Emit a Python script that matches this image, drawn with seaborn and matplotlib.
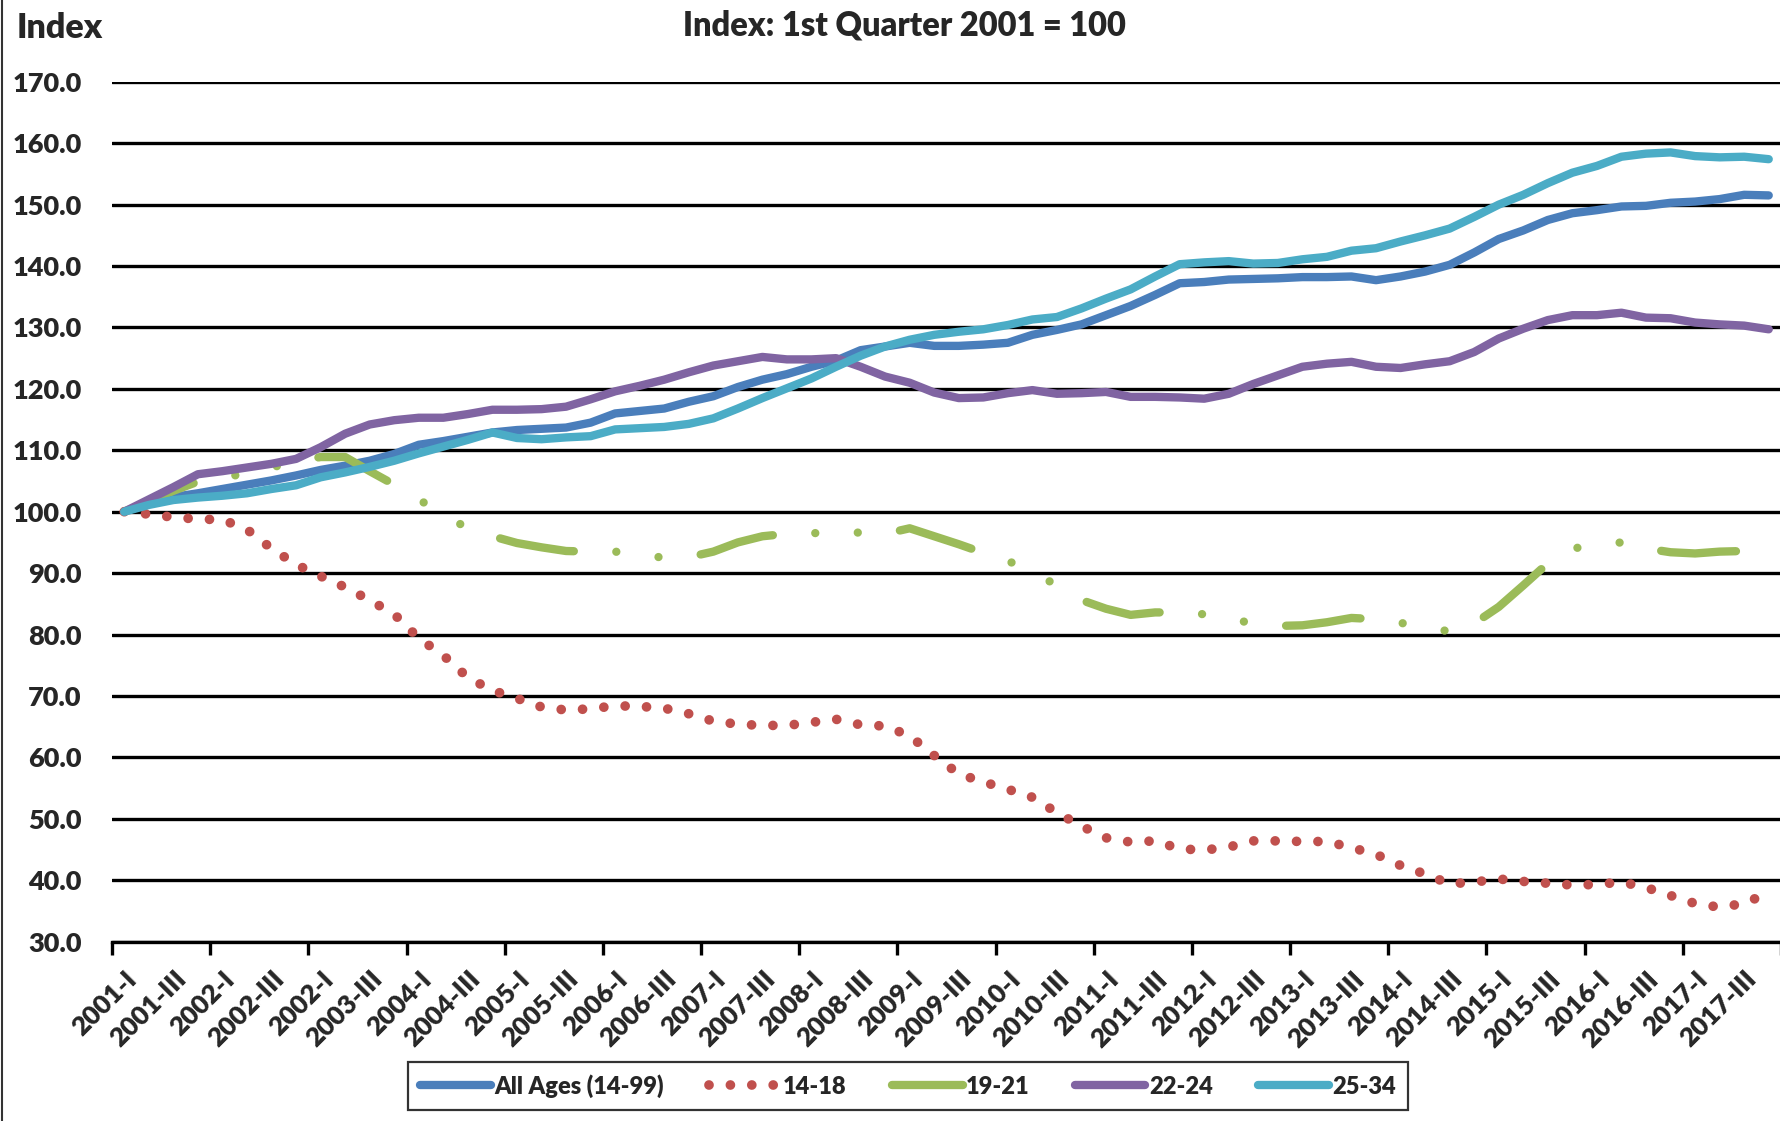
import numpy as np
import pandas as pd
import matplotlib
matplotlib.use("Agg")
import matplotlib.pyplot as plt
from matplotlib.lines import Line2D
import seaborn as sns

# quarterly categories 2001-I .. 2017-IV
quarters = [f"{y}-{q}" for y in range(2001, 2018) for q in ["I", "II", "III", "IV"]]

# tick labels every other quarter (as printed on the original, incl. its "2002-I" typo)
tick_labels = ["2001-I", "2001-III", "2002-I", "2002-III", "2002-I", "2003-III",
               "2004-I", "2004-III", "2005-I", "2005-III", "2006-I", "2006-III",
               "2007-I", "2007-III", "2008-I", "2008-III", "2009-I", "2009-III",
               "2010-I", "2010-III", "2011-I", "2011-III", "2012-I", "2012-III",
               "2013-I", "2013-III", "2014-I", "2014-III", "2015-I", "2015-III",
               "2016-I", "2016-III", "2017-I", "2017-III"]

all_ages = [100.0, 101.4, 102.4, 103.0, 103.7, 104.4, 105.1, 105.9, 106.8, 107.5,
            108.3, 109.4, 110.9, 111.5, 112.2, 112.9, 113.3, 113.5, 113.7, 114.5,
            116.0, 116.4, 116.8, 117.9, 118.8, 120.3, 121.5, 122.4, 123.6, 124.6,
            126.3, 126.9, 127.5, 127.0, 127.0, 127.2, 127.5, 128.8, 129.6, 130.5,
            132.0, 133.5, 135.3, 137.2, 137.4, 137.8, 137.9, 138.0, 138.2, 138.2,
            138.3, 137.7, 138.3, 139.1, 140.2, 142.2, 144.4, 145.8, 147.5, 148.6,
            149.1, 149.7, 149.8, 150.3, 150.5, 150.9, 151.6, 151.5]

age_14_18 = [100.0, 99.6, 99.1, 98.8, 98.7, 97.1, 94.0, 91.4, 89.5, 87.7,
             85.6, 83.3, 79.4, 76.6, 73.0, 70.9, 69.6, 68.2, 67.7, 67.9,
             68.4, 68.3, 68.0, 67.1, 65.9, 65.4, 65.2, 65.2, 65.7, 66.2,
             65.3, 65.1, 63.5, 60.3, 57.3, 56.0, 54.8, 53.5, 51.0, 48.8,
             46.9, 46.2, 46.4, 45.1, 44.9, 45.4, 46.4, 46.4, 46.3, 46.3,
             45.3, 44.2, 42.4, 41.0, 39.4, 39.7, 40.2, 39.8, 39.5, 39.2,
             39.3, 39.7, 38.8, 37.5, 36.2, 35.6, 36.2, 38.0]

age_19_21 = [100.0, 101.7, 103.4, 104.9, 105.5, 106.3, 107.2, 108.2, 108.9, 108.9,
             106.6, 104.4, 102.0, 99.5, 97.3, 96.0, 94.9, 94.2, 93.6, 93.5,
             93.5, 93.0, 92.5, 92.6, 93.5, 95.0, 96.0, 96.4, 96.5, 96.6,
             96.6, 96.4, 97.3, 96.0, 94.7, 93.3, 92.0, 90.2, 88.0, 85.6,
             84.2, 83.2, 83.6, 83.6, 83.3, 82.6, 81.8, 81.4, 81.5, 82.0,
             82.7, 82.5, 81.9, 81.2, 80.5, 81.8, 84.5, 88.0, 91.6, 94.0,
             94.6, 95.0, 94.0, 93.4, 93.2, 93.5, 93.6, 93.5]

age_22_24 = [100.0, 102.0, 104.0, 106.1, 106.6, 107.2, 107.8, 108.6, 110.5, 112.7,
             114.2, 114.9, 115.3, 115.3, 115.9, 116.6, 116.6, 116.7, 117.1, 118.3,
             119.6, 120.5, 121.5, 122.7, 123.8, 124.5, 125.2, 124.8, 124.8, 125.0,
             123.6, 122.0, 121.0, 119.4, 118.5, 118.6, 119.3, 119.8, 119.2, 119.3,
             119.5, 118.7, 118.7, 118.6, 118.4, 119.2, 120.8, 122.2, 123.6, 124.1,
             124.4, 123.6, 123.4, 124.0, 124.5, 126.0, 128.2, 129.8, 131.2, 132.0,
             132.0, 132.4, 131.6, 131.5, 130.8, 130.5, 130.3, 129.7]

age_25_34 = [100.0, 101.1, 101.9, 102.3, 102.6, 103.0, 103.7, 104.3, 105.6, 106.4,
             107.3, 108.3, 109.5, 110.6, 111.7, 112.9, 112.0, 111.8, 112.1, 112.3,
             113.4, 113.6, 113.8, 114.3, 115.2, 116.8, 118.5, 120.1, 121.7, 123.6,
             125.4, 126.9, 128.0, 128.8, 129.3, 129.7, 130.4, 131.3, 131.7, 133.1,
             134.7, 136.2, 138.3, 140.3, 140.6, 140.8, 140.4, 140.5, 141.1, 141.5,
             142.5, 142.9, 144.0, 145.0, 146.1, 148.0, 150.0, 151.6, 153.5, 155.2,
             156.3, 157.8, 158.3, 158.5, 157.9, 157.7, 157.8, 157.4]

series_names = ["All Ages (14-99)", "14-18", "19-21", "22-24", "25-34"]
colors = ["#4A7EBB", "#C0504D", "#9BBB59", "#8064A2", "#4BACC6"]
y_ticks = [30, 40, 50, 60, 70, 80, 90, 100, 110, 120, 130, 140, 150, 160, 170]

df = pd.DataFrame({"pos": np.arange(len(quarters)), "quarter": quarters,
                   series_names[0]: all_ages, series_names[1]: age_14_18,
                   series_names[2]: age_19_21, series_names[3]: age_22_24,
                   series_names[4]: age_25_34})
long = df.melt(id_vars=["pos", "quarter"], var_name="group", value_name="index")

sns.set_theme(style="white")
plt.rcParams["font.family"] = ["Lato", "DejaVu Sans"]
plt.rcParams["font.weight"] = "heavy"
W = "heavy"

fig = plt.figure(figsize=(17.81, 11.21), dpi=100)
ax = fig.add_axes([112 / 1781, 1 - 941.6 / 1121, 1 - 112 / 1781, (941.6 - 81.8) / 1121])

styles = {
    "All Ages (14-99)": dict(lw=6, ls="-"),
    "14-18": dict(lw=7, ls=(0, (0.001, 2.2))),
    "19-21": dict(lw=6, ls=(0, (9.0, 5.1, 0.001, 5.1, 0.001, 5.1))),
    "22-24": dict(lw=6, ls="-"),
    "25-34": dict(lw=6, ls="-"),
}

handles = []
for name, col in zip(series_names, colors):
    st = styles[name]
    sns.lineplot(data=long[long.group == name], x="pos", y="index", ax=ax,
                 color=col, linewidth=st["lw"], linestyle=st["ls"],
                 solid_capstyle="round", dash_capstyle="round",
                 solid_joinstyle="round", errorbar=None, legend=False)
    handles.append(Line2D([], [], color=col, lw=st["lw"], ls=st["ls"],
                          solid_capstyle="round", dash_capstyle="round"))

ax.set_xlim(-0.5, len(quarters) - 0.5)
ax.set_ylim(30, 170)
ax.set_xlabel("")
ax.set_ylabel("")

ax.set_yticks(y_ticks)
ax.set_yticklabels([f"{v:.1f}" for v in y_ticks], fontsize=19.5, fontweight=W)
ax.tick_params(axis="y", length=0, pad=22)
ax.yaxis.grid(True, color="black", lw=2.4)
ax.set_axisbelow(True)

ax.set_xticks(np.arange(-0.5, len(quarters), 4))
ax.set_xticklabels([])
ax.set_xticks(np.arange(0, len(quarters), 2), minor=True)
ax.set_xticklabels(tick_labels, minor=True, rotation=45, ha="right",
                   rotation_mode="anchor", fontsize=19, fontweight=W)
ax.tick_params(axis="x", which="major", length=9, width=2.4, color="black",
               direction="out", bottom=True)
ax.tick_params(axis="x", which="minor", length=0, pad=18, bottom=True)

for s in ["top", "right", "left"]:
    ax.spines[s].set_visible(False)
ax.spines["bottom"].set_color("black")
ax.spines["bottom"].set_linewidth(2.4)

fig.text(904 / 1781, 1 - 25 / 1121, "Index: 1st Quarter 2001 = 100",
         ha="center", va="center", fontsize=23.5, fontweight=W)
fig.text(17 / 1781, 1 - 28 / 1121, "Index", ha="left", va="center",
         fontsize=24.5, fontweight=W)

leg = fig.legend(handles, series_names, loc="center",
                 bbox_to_anchor=(908 / 1781, 1 - 1086 / 1121), ncol=5,
                 frameon=True, fancybox=False, edgecolor="black",
                 handlelength=3.0, handletextpad=0.15, columnspacing=1.9,
                 borderpad=0.5, prop=dict(weight=W, size=17))
leg.get_frame().set_linewidth(1.6)

fig.add_artist(Line2D([0.001, 0.001], [0, 1], color="#333333", lw=1.5,
                      transform=fig.transFigure))

fig.savefig("out.png", dpi=100)
